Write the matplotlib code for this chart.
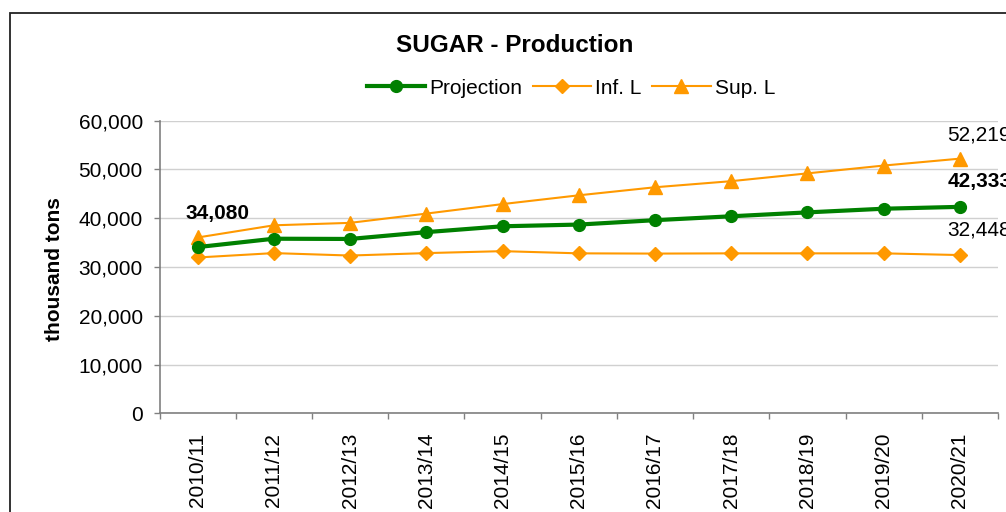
import matplotlib
matplotlib.use("Agg")
import matplotlib.pyplot as plt
from matplotlib.patches import Rectangle
from matplotlib.ticker import FuncFormatter

plt.rcParams["font.family"] = ["Liberation Sans", "DejaVu Sans"]

seasons = ["2010/11", "2011/12", "2012/13", "2013/14", "2014/15", "2015/16",
           "2016/17", "2017/18", "2018/19", "2019/20", "2020/21"]
projection = [34080, 35800, 35750, 37150, 38350, 38700, 39600, 40400, 41200, 41950, 42333]
inf_l = [31950, 32850, 32350, 32850, 33250, 32800, 32750, 32800, 32800, 32800, 32448]
sup_l = [36050, 38550, 39050, 40950, 42900, 44700, 46350, 47600, 49200, 50800, 52219]

GREEN = "#008000"
ORANGE = "#FF9900"

fig = plt.figure(figsize=(10.06, 5.12), dpi=100)
ax = fig.add_axes([159.5 / 1006, 1 - 413.3 / 512, (998 - 159.5) / 1006, (413.3 - 120.7) / 512])

x = list(range(len(seasons)))
ax.plot(x, projection, color=GREEN, lw=3, marker="o", ms=8.5, label="Projection", zorder=4)
ax.plot(x, inf_l, color=ORANGE, lw=1.5, marker="D", ms=7.5, label="Inf. L", zorder=3)
ax.plot(x, sup_l, color=ORANGE, lw=1.5, marker="^", ms=10, label="Sup. L", zorder=3)

ax.set_xlim(-0.5, len(seasons) - 0.5)
ax.set_ylim(0, 60000)
ax.set_yticks(range(0, 60001, 10000))
ax.yaxis.set_major_formatter(FuncFormatter(lambda v, p: f"{int(v):,}"))
ax.set_xticks(x)
ax.set_xticklabels(seasons, rotation=90, fontsize=15)
ax.set_xticks([i + 0.5 for i in range(-1, len(seasons))], minor=True)
ax.tick_params(axis="x", which="major", length=0, pad=14)
ax.tick_params(axis="x", which="minor", length=4, width=1, color="#808080", direction="out")
ax.tick_params(axis="y", labelsize=15, length=4, width=1, color="#808080", pad=8)

ax.grid(axis="y", color="#d0d0d0", lw=1)
ax.set_axisbelow(True)
for side in ["top", "right"]:
    ax.spines[side].set_visible(False)
for side in ["left", "bottom"]:
    ax.spines[side].set_color("#808080")
    ax.spines[side].set_linewidth(1.2)

# value labels
ax.annotate(f"{projection[0]:,}", (0, projection[0]), xytext=(14, 24), textcoords="offset points",
            ha="center", va="center", fontsize=15, fontweight="bold", annotation_clip=False)
ax.annotate(f"{sup_l[-1]:,}", (10, sup_l[-1]), xytext=(-9, 17), textcoords="offset points",
            ha="left", va="center", fontsize=15, annotation_clip=False)
ax.annotate(f"{projection[-1]:,}", (10, projection[-1]), xytext=(-9, 18), textcoords="offset points",
            ha="left", va="center", fontsize=15, fontweight="bold", annotation_clip=False)
ax.annotate(f"{inf_l[-1]:,}", (10, inf_l[-1]), xytext=(-9, 18), textcoords="offset points",
            ha="left", va="center", fontsize=15, annotation_clip=False)

fig.text(515 / 1006, 1 - 45 / 512, "SUGAR - Production", ha="center", va="center",
         fontsize=17.5, fontweight="bold")
fig.text(54 / 1006, 1 - 269 / 512, "thousand tons", rotation=90, ha="center", va="center",
         fontsize=15, fontweight="bold")

fig.legend(loc="center", bbox_to_anchor=(571 / 1006, 1 - 88 / 512), ncol=3, frameon=False,
           fontsize=15, handlelength=2.8, handletextpad=0.2, columnspacing=0.5)

# outer frame of the chart box
fig.patches.append(Rectangle((10 / 1006, -0.2), 1.5, 1.2 - 12.5 / 512, transform=fig.transFigure,
                             fill=False, edgecolor="#222222", lw=1.3))

fig.savefig("out.png", dpi=100)
